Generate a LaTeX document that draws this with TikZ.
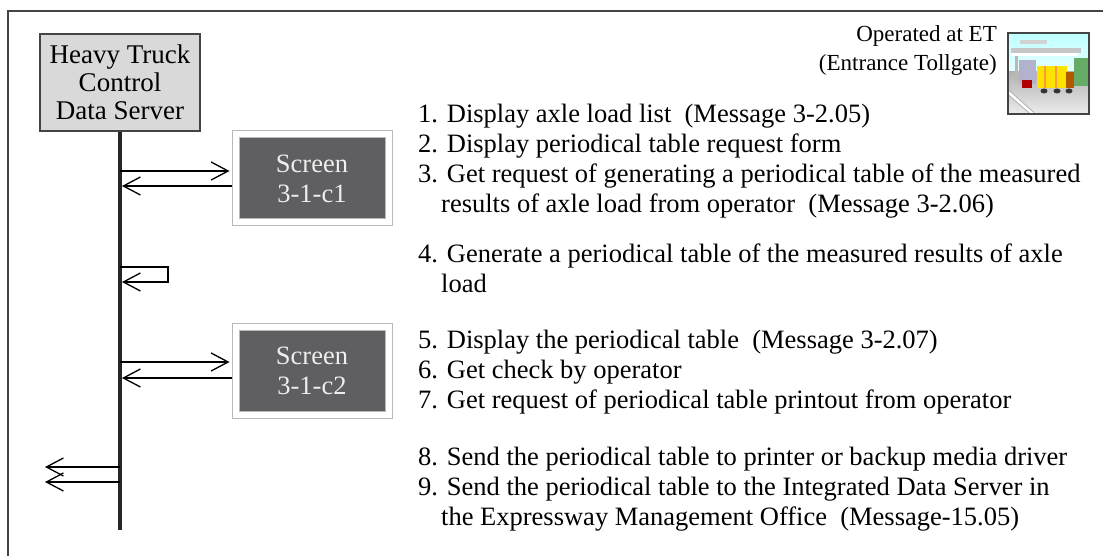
\documentclass[tikz,border=0pt]{standalone}
\usepackage{fontspec}
\setmainfont{Liberation Serif}
\usetikzlibrary{arrows.meta,positioning}

\definecolor{srvfill}{HTML}{D9D9D9}
\definecolor{scrfill}{HTML}{5F5F61}
\definecolor{scrtext}{HTML}{EEEEEE}
\definecolor{edge}{HTML}{444444}

\tikzset{
  srvbox/.style={draw=edge, line width=1.5pt, fill=srvfill, align=center,
    minimum width=160pt, minimum height=97pt, inner sep=0pt,
    font=\fontsize{27}{28}\selectfont},
  scrbox/.style={fill=scrfill, draw=gray!55, double=white, double distance=6pt,
    line width=1pt, text=scrtext, align=center, minimum width=153pt,
    minimum height=88pt, inner sep=0pt, outer sep=4pt},
  lifeline/.style={line width=3.5pt, color=black!85},
  msg/.style={line width=1.3pt, -{Straight Barb[length=17pt,width=18pt,line width=1.3pt]}},
  steptext/.style={anchor=base west, inner sep=0pt},
}

\begin{document}
\begin{tikzpicture}[x=1pt, y=-1pt, font=\fontsize{26.5}{30}\selectfont]
\useasboundingbox (0,0) rectangle (1103,556);

% outer frame
\draw[edge, line width=1.5pt] (8,556) -- (8,11) -- (1103,11);

% server and its lifeline
\node[srvbox] (srv) at (120,82.5) {Heavy Truck\\Control\\Data Server};
\coordinate (lifeend) at (120,530);
\draw[lifeline] (srv.south) -- (lifeend);

% screens
\node[scrbox] (scr1) at (312,178.5) {Screen\\3-1-c1};
\node[scrbox] (scr2) at (312,370.5) {Screen\\3-1-c2};

% rows of the messages
\coordinate (r1) at (0,171);
\coordinate (r2) at (0,186);
\coordinate (r4a) at (0,267);
\coordinate (r4b) at (0,282);
\coordinate (r5) at (0,362);
\coordinate (r6) at (0,378);
\coordinate (prn) at (45,467);
\coordinate (ids) at (45,482);

\draw[msg, shorten >=2pt] (srv |- r1) -- (scr1.west |- r1);
\draw[msg, shorten >=2pt] (scr1.west |- r2) -- (srv |- r2);
\draw[msg, shorten >=2pt] (srv |- r4a) -- ++(48,0) -- ++(0,15) -- (srv |- r4b);
\draw[msg, shorten >=2pt] (srv |- r5) -- (scr2.west |- r5);
\draw[msg, shorten >=2pt] (scr2.west |- r6) -- (srv |- r6);
\draw[msg] (srv |- prn) -- (prn);
\draw[msg] (srv |- ids) -- (ids);

% steps
\node[steptext] (s1) at (418,123) {1. Display axle load list\ \ (Message 3-2.05)};
\node[steptext] (s2) at (418,153) {2. Display periodical table request form};
\node[steptext] (s3) at (418,183) {3. Get request of generating a periodical table of the measured};
\node[steptext] (s3b) at (441,213) {results of axle load from operator\ \ (Message 3-2.06)};
\node[steptext] (s4) at (418,262) {4. Generate a periodical table of the measured results of axle};
\node[steptext] (s4b) at (441,292) {load};
\node[steptext] (s5) at (418,348) {5. Display the periodical table\ \ (Message 3-2.07)};
\node[steptext] (s6) at (418,378) {6. Get check by operator};
\node[steptext] (s7) at (418,408) {7. Get request of periodical table printout from operator};
\node[steptext] (s8) at (418,465) {8. Send the periodical table to printer or backup media driver};
\node[steptext] (s9) at (418,495) {9. Send the periodical table to the Integrated Data Server in};
\node[steptext] (s9b) at (441,525) {the Expressway Management Office\ \ (Message-15.05)};

% where it is operated
\node[anchor=base east, inner sep=0pt, font=\fontsize{23}{29}\selectfont] (op1) at (997,42) {Operated at ET};
\node[anchor=base east, inner sep=0pt, font=\fontsize{23}{29}\selectfont] (op2) at (997,71) {(Entrance Tollgate)};

% tollgate snapshot
\begin{scope}
  \clip (1008,33) rectangle (1089,114);
  \fill[top color=cyan!25, bottom color=cyan!10] (1008,33) rectangle (1089,72);
  \fill[top color=gray!60, bottom color=gray!15] (1008,72) rectangle (1089,114);
  \fill[gray!35] (1020,40) rectangle (1047,44);
  \fill[gray!45] (1011,48) rectangle (1081,53);
  \fill[white] (1011,53) rectangle (1078,56);
  \fill[gray!55] (1015,56) rectangle (1018,80);
  \fill[blue!20!gray!50] (1019,60) rectangle (1036,84);
  \fill[green!45!black!60] (1074,58) rectangle (1089,86);
  \fill[red!70!black] (1022,80) rectangle (1032,88);
  \fill[yellow!85!orange] (1037,66) rectangle (1067,88);
  \fill[orange!80] (1044,66) rectangle (1046,88);
  \fill[orange!80] (1055,66) rectangle (1057,88);
  \fill[orange!70!black] (1066,72) rectangle (1074,88);
  \fill[black!80] (1044,91) ellipse (3.5 and 2.5);
  \fill[black!80] (1057,91) ellipse (3.5 and 2.5);
  \fill[black!80] (1069,91) ellipse (3.5 and 2.5);
  \draw[gray!60, line width=4.5pt] (1008,92) -- (1033,114);
  \draw[white, line width=2.5pt] (1008,92) -- (1033,114);
\end{scope}
\draw[edge, line width=1.2pt] (1008,33) rectangle (1089,114);
\end{tikzpicture}
\end{document}
